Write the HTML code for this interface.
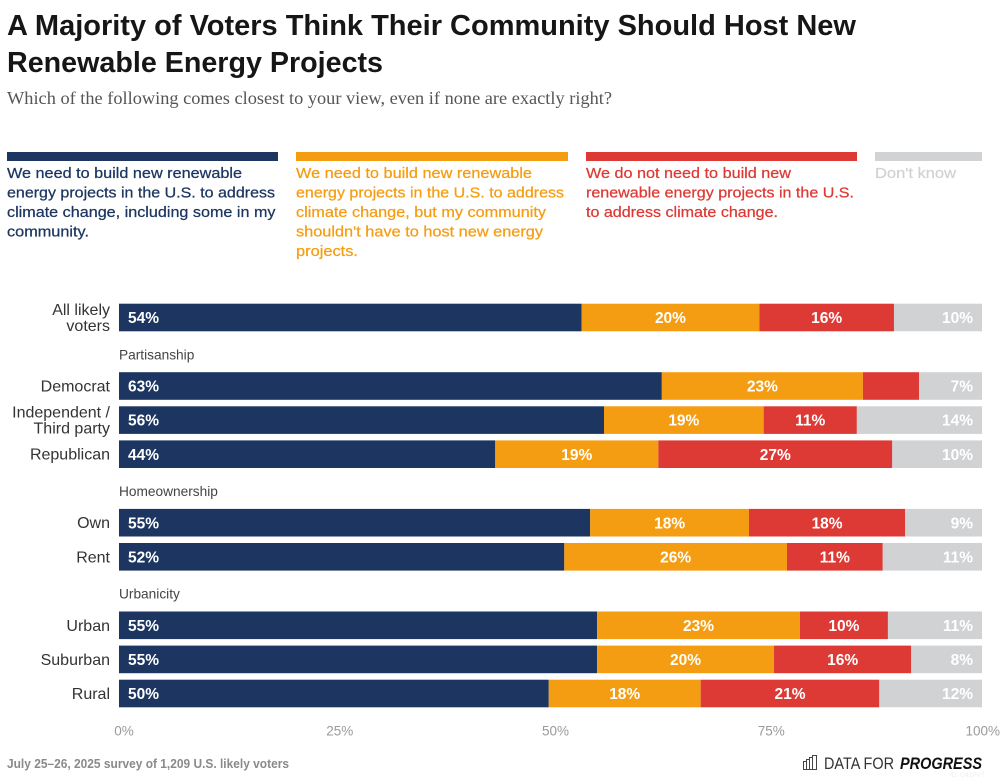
<!DOCTYPE html>
<html lang="en">
<head>
<meta charset="utf-8">
<title>A Majority of Voters Think Their Community Should Host New Renewable Energy Projects</title>
<style>
html,body{margin:0;padding:0;background:#fff;width:1000px;height:779px;overflow:hidden}
svg{display:block}
text{font-family:"Liberation Sans",sans-serif}
.title{font-size:28.5px;font-weight:700;fill:#161616}
.sub{font-family:"Liberation Serif",serif;font-size:17.5px;fill:#555}
.leg{font-size:15px;stroke-width:.25px}
</style>
</head>
<body>
<svg id="chart" width="1000" height="779" viewBox="0 0 1000 779" xmlns="http://www.w3.org/2000/svg">
<rect width="1000" height="779" fill="#fff"/>
<text class="title" x="7" y="35" textLength="849" lengthAdjust="spacingAndGlyphs">A Majority of Voters Think Their Community Should Host New</text>
<text class="title" x="7" y="72" textLength="376" lengthAdjust="spacingAndGlyphs">Renewable Energy Projects</text>
<text class="sub" x="7" y="104" textLength="605" lengthAdjust="spacingAndGlyphs">Which of the following comes closest to your view, even if none are exactly right?</text>

<g fill="#1c3661" stroke="#1c3661">
<rect x="7" y="152" width="271" height="9" stroke="none"/>
<text class="leg" x="7" y="178" textLength="235" lengthAdjust="spacingAndGlyphs">We need to build new renewable</text>
<text class="leg" x="7" y="197.5" textLength="268" lengthAdjust="spacingAndGlyphs">energy projects in the U.S. to address</text>
<text class="leg" x="7" y="217" textLength="268.5" lengthAdjust="spacingAndGlyphs">climate change, including some in my</text>
<text class="leg" x="7" y="236.5" textLength="82" lengthAdjust="spacingAndGlyphs">community.</text>
</g>
<g fill="#f59d12" stroke="#f59d12">
<rect x="296" y="152" width="272" height="9" stroke="none"/>
<text class="leg" x="296" y="178" textLength="236" lengthAdjust="spacingAndGlyphs">We need to build new renewable</text>
<text class="leg" x="296" y="197.5" textLength="268" lengthAdjust="spacingAndGlyphs">energy projects in the U.S. to address</text>
<text class="leg" x="296" y="217" textLength="250" lengthAdjust="spacingAndGlyphs">climate change, but my community</text>
<text class="leg" x="296" y="236.5" textLength="247" lengthAdjust="spacingAndGlyphs">shouldn't have to host new energy</text>
<text class="leg" x="296" y="256" textLength="62" lengthAdjust="spacingAndGlyphs">projects.</text>
</g>
<g fill="#dd3a35" stroke="#dd3a35">
<rect x="586" y="152" width="271" height="9" stroke="none"/>
<text class="leg" x="586" y="178" textLength="205" lengthAdjust="spacingAndGlyphs">We do not need to build new</text>
<text class="leg" x="586" y="197.5" textLength="268" lengthAdjust="spacingAndGlyphs">renewable energy projects in the U.S.</text>
<text class="leg" x="586" y="217" textLength="192" lengthAdjust="spacingAndGlyphs">to address climate change.</text>
</g>
<g fill="#d1d2d4" stroke="#d1d2d4">
<rect x="875" y="152" width="107" height="9" stroke="none"/>
<text class="leg" x="875" y="178" textLength="81" lengthAdjust="spacingAndGlyphs">Don't know</text>
</g>

<g id="plot"></g>

<text x="7" y="768" font-size="12.5" font-weight="700" fill="#8a8a8a" textLength="282" lengthAdjust="spacingAndGlyphs">July 25–26, 2025 survey of 1,209 U.S. likely voters</text>
<g>
<g fill="none" stroke="#444" stroke-width="1">
<rect x="803.5" y="761.5" width="3" height="8"/>
<rect x="806.5" y="759.5" width="3" height="10"/>
<rect x="809.5" y="757.5" width="3" height="12"/>
<rect x="812.5" y="755.5" width="4" height="14"/>
</g>
<text x="824" y="769" font-size="17" fill="#333" textLength="70" lengthAdjust="spacingAndGlyphs">DATA FOR</text>
<text x="900" y="769" font-size="17" font-weight="700" font-style="italic" fill="#111" textLength="82" lengthAdjust="spacingAndGlyphs">PROGRESS</text>
</g>
<text x="950" y="777" font-size="6.5" fill="#eeeeee">ID: G42PVT</text>
</svg>

<script>
const categories = ["All likely voters", "Democrat", "Independent / Third party", "Republican", "Own", "Rent", "Urban", "Suburban", "Rural"];
const groupBefore = ["", "Partisanship", "", "", "Homeownership", "", "Urbanicity", "", ""];
const seriesNames = ["build-in-my-community", "build-not-in-my-community", "do-not-build", "dont-know"];
const buildMine = [53.6, 62.9, 56.2, 43.6, 54.6, 51.6, 55.4, 55.4, 49.8];
const buildElsewhere = [20.6, 23.3, 18.5, 18.9, 18.4, 25.8, 23.5, 20.5, 17.6];
const noBuild = [15.6, 6.5, 10.8, 27.1, 18.1, 11.1, 10.2, 15.9, 20.7];
const dontKnow = [10.2, 7.3, 14.5, 10.4, 8.9, 11.5, 10.9, 8.2, 11.9];
const buildMineLabels = ["54%", "63%", "56%", "44%", "55%", "52%", "55%", "55%", "50%"];
const buildElsewhereLabels = ["20%", "23%", "19%", "19%", "18%", "26%", "23%", "20%", "18%"];
const noBuildLabels = ["16%", "", "11%", "27%", "18%", "11%", "10%", "16%", "21%"];
const dontKnowLabels = ["10%", "7%", "14%", "10%", "9%", "11%", "11%", "8%", "12%"];
const tickValues = [0, 25, 50, 75, 100];
const tickLabels = ["0%", "25%", "50%", "75%", "100%"];

const seriesValues = [buildMine, buildElsewhere, noBuild, dontKnow];
const seriesLabels = [buildMineLabels, buildElsewhereLabels, noBuildLabels, dontKnowLabels];
const seriesColors = ["#1c3661", "#f59d12", "#dd3a35", "#d1d2d4"];

const NS = "http://www.w3.org/2000/svg";
const plot = document.getElementById("plot");
const x0 = 119, x1 = 982;
const xScale = function (v) { return x0 + (v / 100) * (x1 - x0); };
const barHeight = 27.6, rowPitch = 34.1, groupGap = 34.4;

function makeText(content, x, y, size, fill, anchor, weight) {
  const t = document.createElementNS(NS, "text");
  t.textContent = content;
  t.setAttribute("x", x);
  t.setAttribute("y", y);
  t.setAttribute("font-size", size);
  t.setAttribute("fill", fill);
  t.setAttribute("text-anchor", anchor);
  t.setAttribute("font-weight", weight);
  return t;
}

function wrapLabel(name) {
  if (name === "All likely voters") return ["All likely", "voters"];
  if (name === "Independent / Third party") return ["Independent /", "Third party"];
  return [name];
}

let cursor = 303.7;
categories.forEach(function (cat, i) {
  if (groupBefore[i]) {
    const header = makeText(groupBefore[i], x0, cursor + 21.5, 13.7, "#444", "start", 400);
    
    
    plot.appendChild(header);
    cursor += groupGap;
  }
  const top = cursor;
  const mid = top + barHeight / 2;

  const lines = wrapLabel(cat);
  lines.forEach(function (line, k) {
    const ly = lines.length === 1 ? mid + 5.5 : mid - 2.5 + k * 16;
    const lab = makeText(line, 110, ly, 16, "#333", "end", 400);
    
    
    plot.appendChild(lab);
  });

  let acc = 0;
  seriesValues.forEach(function (values, s) {
    const v = values[i];
    const left = xScale(acc);
    const right = xScale(acc + v);
    const rect = document.createElementNS(NS, "rect");
    
    
    rect.setAttribute("data-series", seriesNames[s]);
    rect.setAttribute("x", left);
    rect.setAttribute("y", top);
    rect.setAttribute("width", right - left);
    rect.setAttribute("height", barHeight);
    rect.setAttribute("fill", seriesColors[s]);
    plot.appendChild(rect);

    const printed = seriesLabels[s][i];
    if (printed) {
      let tx = (left + right) / 2, anchor = "middle";
      if (s === 0) { tx = left + 9; anchor = "start"; }
      if (s === 3) { tx = right - 9; anchor = "end"; }
      const vt = makeText(printed, tx, mid + 5.6, 15.5, "#fff", anchor, 700);
      
      
      plot.appendChild(vt);
    }
    acc += v;
  });
  cursor += rowPitch;
});

tickValues.forEach(function (tv, i) {
  const isLast = tv === 100;
  const tick = makeText(tickLabels[i], isLast ? 1000 : xScale(tv) + 5, 735.5, 13.5, "#9a9a9a", isLast ? "end" : "middle", 400);
  
  
  plot.appendChild(tick);
});
</script>
</body>
</html>
